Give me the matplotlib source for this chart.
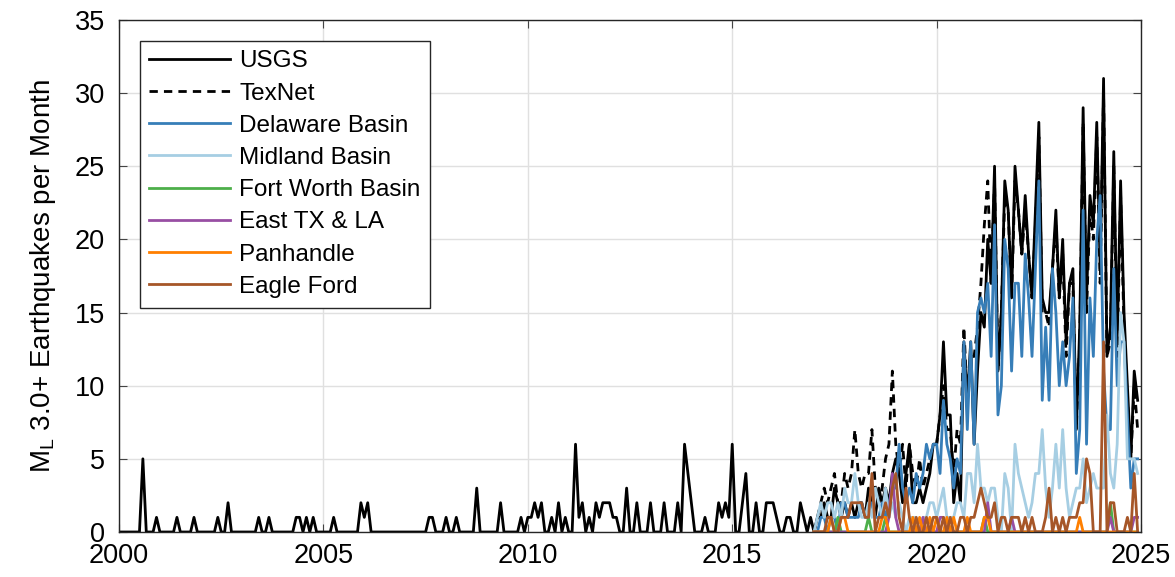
import numpy as np
import matplotlib
matplotlib.use("Agg")
import matplotlib.pyplot as plt

plt.rcParams['font.family'] = ['Liberation Sans', 'DejaVu Sans']
plt.rcParams['mathtext.fontset'] = 'custom'
plt.rcParams['mathtext.rm'] = 'Liberation Sans'

# monthly counts of ML 3.0+ earthquakes, one row per year (Jan..Dec)
usgs_rows = [
    [0, 0, 0, 0, 0, 0, 0, 5, 0, 0, 0, 1],        # 2000
    [0, 0, 0, 0, 0, 1, 0, 0, 0, 0, 1, 0],        # 2001
    [0, 0, 0, 0, 0, 1, 0, 0, 2, 0, 0, 0],        # 2002
    [0, 0, 0, 0, 0, 1, 0, 0, 1, 0, 0, 0],        # 2003
    [0, 0, 0, 0, 1, 1, 0, 1, 0, 1, 0, 0],        # 2004
    [0, 0, 0, 1, 0, 0, 0, 0, 0, 0, 0, 2],        # 2005
    [1, 2, 0, 0, 0, 0, 0, 0, 0, 0, 0, 0],        # 2006
    [0, 0, 0, 0, 0, 0, 0, 1, 1, 0, 0, 0],        # 2007
    [1, 0, 0, 1, 0, 0, 0, 0, 0, 3, 0, 0],        # 2008
    [0, 0, 0, 0, 2, 0, 0, 0, 0, 0, 1, 0],        # 2009
    [1, 1, 2, 1, 2, 0, 0, 1, 0, 2, 0, 1],        # 2010
    [0, 0, 6, 1, 2, 0, 1, 0, 2, 1, 2, 2],        # 2011
    [2, 1, 1, 0, 0, 3, 0, 0, 2, 0, 0, 0],        # 2012
    [2, 0, 0, 0, 2, 0, 0, 0, 2, 0, 6, 4],        # 2013
    [2, 0, 0, 0, 1, 0, 0, 0, 2, 1, 2, 1],        # 2014
    [6, 0, 0, 2, 4, 0, 0, 2, 0, 0, 2, 2],        # 2015
    [2, 1, 0, 0, 1, 1, 0, 0, 2, 1, 0, 1],        # 2016
    [0, 1, 1, 2, 1, 1, 3, 2, 1, 2, 1, 2],        # 2017
    [1, 2, 2, 1, 3, 2, 1, 3, 2, 3, 2, 4],        # 2018
    [5, 4, 2, 4, 6, 2, 2, 3, 2, 3, 4, 6],        # 2019
    [6, 8, 13, 8, 8, 2, 4, 2, 13, 9, 13, 6],     # 2020
    [11, 15, 14, 20, 17, 25, 11, 15, 24, 22, 16, 25],  # 2021
    [22, 19, 23, 19, 16, 22, 28, 16, 15, 15, 18, 22],  # 2022
    [16, 20, 13, 17, 18, 7, 14, 29, 16, 23, 21, 28],   # 2023
    [18, 31, 12, 14, 26, 13, 24, 15, 10, 5, 11, 9],    # 2024
]

# TexNet and regional series start in 2017 (rows 2017..2024)
texnet_rows = [
    [0, 1, 2, 3, 2, 3, 4, 2, 2, 4, 3, 4],
    [7, 4, 3, 4, 4, 7, 3, 2, 3, 5, 6, 11],
    [6, 4, 6, 3, 6, 4, 3, 5, 3, 4, 5, 6],
    [6, 8, 10, 7, 7, 4, 7, 6, 14, 9, 12, 12],
    [14, 17, 21, 24, 17, 24, 11, 15, 23, 22, 16, 24],
    [22, 19, 22, 19, 16, 21, 27, 15, 15, 14, 18, 21],
    [16, 19, 12, 17, 17, 7, 13, 28, 15, 22, 20, 27],
    [17, 30, 12, 13, 25, 12, 23, 14, 9, 5, 10, 7],
]
delaware_rows = [
    [0, 0, 1, 1, 0, 1, 1, 0, 2, 2, 1, 1],
    [1, 1, 2, 1, 1, 2, 1, 1, 2, 1, 2, 3],
    [3, 6, 3, 2, 3, 2, 4, 3, 4, 6, 5, 6],
    [6, 4, 9, 6, 5, 3, 5, 4, 13, 7, 13, 6],
    [15, 16, 15, 17, 12, 21, 8, 10, 20, 18, 11, 17],
    [17, 12, 19, 16, 12, 18, 24, 9, 14, 9, 18, 15],
    [10, 13, 10, 12, 16, 4, 7, 22, 6, 16, 12, 20],
    [23, 11, 7, 7, 18, 10, 13, 13, 8, 3, 5, 5],
]
midland_rows = [
    [0, 1, 2, 1, 2, 2, 1, 2, 1, 3, 2, 2],
    [4, 2, 1, 1, 2, 1, 3, 2, 1, 3, 1, 2],
    [1, 2, 1, 0, 1, 1, 1, 0, 1, 1, 2, 2],
    [1, 2, 3, 1, 1, 1, 2, 2, 1, 4, 4, 2],
    [6, 3, 3, 2, 3, 3, 1, 0, 4, 3, 0, 6],
    [4, 3, 2, 1, 2, 4, 4, 7, 3, 1, 3, 6],
    [3, 7, 3, 1, 2, 3, 3, 5, 2, 3, 4, 3],
    [3, 3, 8, 4, 3, 6, 15, 13, 5, 5, 5, 4],
]
fortworth_rows = [
    [0, 0, 0, 0, 0, 0, 0, 1, 0, 0, 0, 0],
    [0, 0, 0, 0, 1, 0, 0, 0, 0, 1, 0, 0],
    [0, 0, 0, 0, 0, 0, 0, 0, 0, 0, 0, 0],
    [0, 0, 0, 0, 0, 0, 0, 0, 0, 0, 0, 0],
    [0, 0, 1, 0, 0, 0, 0, 0, 0, 0, 0, 0],
    [0, 0, 0, 0, 0, 0, 0, 0, 0, 0, 0, 0],
    [0, 0, 0, 0, 0, 0, 0, 0, 0, 0, 0, 0],
    [0, 0, 0, 2, 0, 0, 0, 0, 0, 0, 0, 0],
]
easttx_rows = [
    [0, 0, 0, 0, 0, 0, 0, 0, 0, 0, 0, 0],
    [0, 0, 0, 0, 0, 0, 0, 0, 0, 0, 1, 4],
    [1, 0, 0, 0, 0, 0, 0, 0, 1, 0, 0, 0],
    [0, 1, 1, 0, 0, 0, 0, 0, 0, 0, 0, 0],
    [0, 0, 0, 2, 0, 0, 0, 0, 0, 0, 1, 0],
    [0, 0, 0, 0, 0, 0, 0, 0, 0, 0, 0, 0],
    [0, 0, 0, 0, 0, 0, 0, 0, 0, 0, 0, 0],
    [0, 0, 0, 1, 0, 0, 0, 0, 0, 0, 1, 1],
]
panhandle_rows = [
    [0, 0, 0, 0, 0, 1, 0, 0, 1, 1, 0, 0],
    [0, 0, 0, 0, 0, 0, 0, 0, 1, 1, 0, 0],
    [0, 0, 0, 0, 0, 1, 0, 1, 0, 0, 1, 0],
    [1, 0, 0, 1, 0, 1, 0, 0, 0, 1, 0, 0],
    [0, 0, 1, 1, 0, 0, 0, 0, 0, 0, 0, 0],
    [0, 0, 0, 0, 0, 0, 0, 0, 0, 0, 0, 0],
    [0, 0, 0, 0, 0, 0, 1, 0, 0, 0, 0, 0],
    [0, 0, 0, 0, 0, 0, 0, 0, 0, 0, 0, 0],
]
eagleford_rows = [
    [0, 0, 0, 0, 1, 1, 0, 0, 1, 1, 1, 2],
    [2, 2, 2, 1, 1, 4, 0, 1, 1, 2, 1, 3],
    [4, 1, 0, 3, 1, 0, 1, 0, 0, 1, 0, 1],
    [1, 0, 1, 0, 1, 0, 0, 1, 1, 0, 1, 1],
    [2, 3, 2, 1, 1, 2, 0, 1, 1, 0, 1, 1],
    [1, 0, 1, 0, 1, 0, 0, 0, 1, 3, 0, 1],
    [0, 1, 0, 1, 1, 1, 2, 2, 5, 4, 0, 0],
    [0, 13, 0, 2, 2, 0, 0, 0, 1, 0, 4, 0],
]

usgs = np.concatenate(usgs_rows)
t_all = 2000 + np.arange(len(usgs)) / 12
t_reg = t_all[-96:]

fig = plt.figure(figsize=(11.75, 5.77), dpi=100)
ax = fig.add_axes([0.1013, 0.078, 0.8698, 0.8875])

ax.plot(t_all, usgs, color='k', lw=2.0, label='USGS')
ax.plot(t_reg, np.concatenate(texnet_rows), color='k', lw=2.0, ls=(0, (3, 2.2)), label='TexNet')
ax.plot(t_reg, np.concatenate(delaware_rows), color='#377eb8', lw=2.0, label='Delaware Basin')
ax.plot(t_reg, np.concatenate(midland_rows), color='#a6cee3', lw=2.0, label='Midland Basin')
ax.plot(t_reg, np.concatenate(fortworth_rows), color='#4daf4a', lw=2.0, label='Fort Worth Basin')
ax.plot(t_reg, np.concatenate(easttx_rows), color='#984ea3', lw=2.0, label='East TX & LA')
ax.plot(t_reg, np.concatenate(panhandle_rows), color='#ff7f00', lw=2.0, label='Panhandle')
ax.plot(t_reg, np.concatenate(eagleford_rows), color='#a65628', lw=2.0, label='Eagle Ford')

ax.set_xlim(2000, 2025)
ax.set_ylim(0, 35)
ax.set_xticks(np.arange(2000, 2026, 5))
ax.set_yticks(np.arange(0, 36, 5))
ax.grid(True, color='#e0e0e0', lw=1.0)
ax.set_axisbelow(True)
ax.tick_params(direction='in', top=True, right=True, labelsize=19.5, length=6, color='#444444')
ax.tick_params(axis='y', pad=10)
ax.tick_params(axis='x', pad=8)
for s in ax.spines.values():
    s.set_color('#262626')
    s.set_linewidth(1.0)

ax.set_ylabel(r'M$_\mathregular{L}$ 3.0+ Earthquakes per Month', fontsize=20, labelpad=12)

leg = ax.legend(loc='upper left', fontsize=17.5, handlelength=3.3, handletextpad=0.4,
                labelspacing=0.42, borderpad=0.4, borderaxespad=0.85, fancybox=False,
                framealpha=1, edgecolor='#262626')
leg.get_frame().set_linewidth(1.0)

fig.savefig('out.png', dpi=100)
